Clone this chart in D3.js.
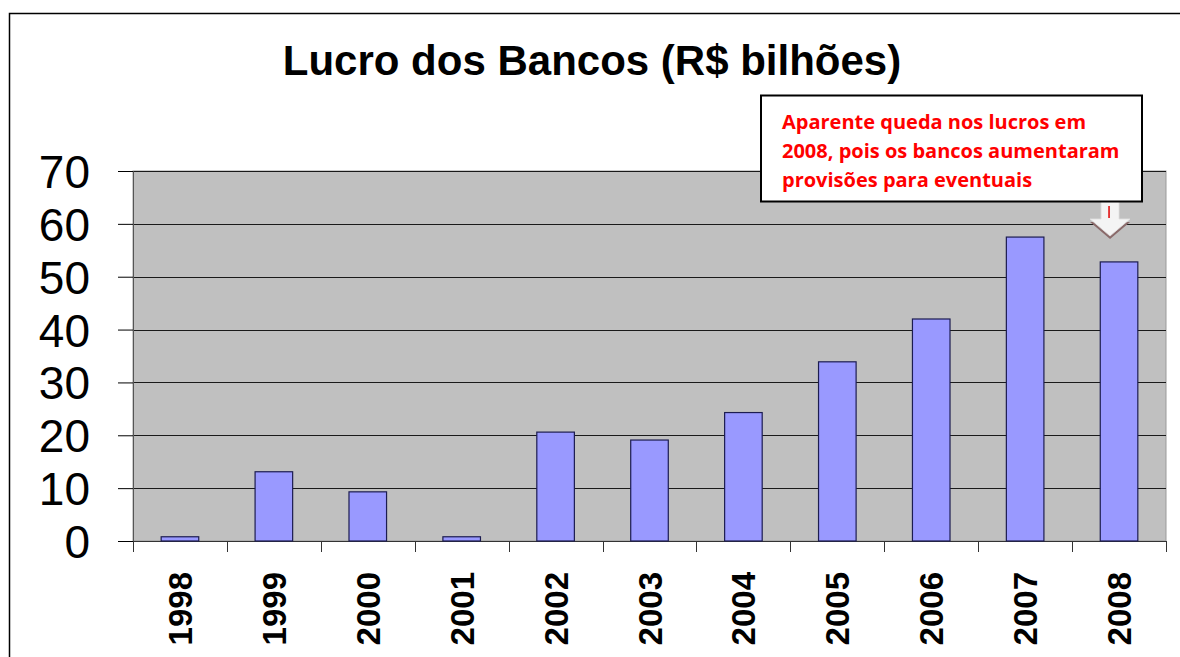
<!DOCTYPE html>
<html>
<head>
<meta charset="utf-8">
<script src="https://cdn.jsdelivr.net/npm/d3@7"></script>
<style>
  html, body { margin: 0; padding: 0; background: #fff; }
  svg { display: block; }
</style>
</head>
<body>
<svg id="chart" width="1180" height="657"></svg>
<script>
// Lucro dos Bancos (R$ bilhões), 1998-2008
const years = ["1998", "1999", "2000", "2001", "2002", "2003", "2004", "2005", "2006", "2007", "2008"];
const lucro = [0.8, 13.1, 9.3, 0.8, 20.6, 19.1, 24.3, 33.9, 42.0, 57.5, 52.8];
const yTicks = [0, 10, 20, 30, 40, 50, 60, 70];
const titleText = "Lucro dos Bancos (R$ bilhões)";
const noteLines = [
  "Aparente queda nos lucros em",
  "2008, pois os bancos aumentaram",
  "provisões para eventuais"
];

const W = 1180, H = 657;
const plot = { left: 133, right: 1166, top: 171, bottom: 541 };

const svg = d3.select("#chart");

// outer frame (only top and left edge visible in the crop)
svg.append("path")
  .attr("d", `M9.5,${H + 5} L9.5,13.5 L${W + 5},13.5`)
  .attr("fill", "none")
  .attr("stroke", "#000")
  .attr("stroke-width", 1.5);

// title
svg.append("text")
  .attr("x", 592)
  .attr("y", 75)
  .attr("text-anchor", "middle")
  .attr("font-family", "Liberation Sans, Arial, sans-serif")
  .attr("font-weight", "bold")
  .attr("font-size", 42)
  .attr("fill", "#000")
  .text(titleText);

// scales
const x = d3.scaleBand()
  .domain(years)
  .range([plot.left, plot.right])
  .paddingInner(0.6)
  .paddingOuter(0.3);

const xTickScale = d3.scaleLinear()
  .domain([0, years.length])
  .range([plot.left, plot.right]);

const y = d3.scaleLinear()
  .domain([0, 70])
  .range([plot.bottom, plot.top]);

// plot background
svg.append("rect")
  .attr("x", plot.left)
  .attr("y", plot.top)
  .attr("width", plot.right - plot.left)
  .attr("height", plot.bottom - plot.top)
  .attr("fill", "#c0c0c0")
  .attr("stroke", "#9a9a9a")
  .attr("stroke-width", 1);

// gridlines
svg.append("g")
  .selectAll("line")
  .data(yTicks.filter(d => d > 0))
  .join("line")
  .attr("x1", plot.left)
  .attr("x2", plot.right)
  .attr("y1", d => Math.round(y(d)) + 0.5)
  .attr("y2", d => Math.round(y(d)) + 0.5)
  .attr("stroke", "#1a1a1a")
  .attr("stroke-width", 1);

// y axis
const yAxis = d3.axisLeft(y)
  .tickValues(yTicks)
  .tickSize(15)
  .tickPadding(28);

const gy = svg.append("g")
  .attr("transform", `translate(${plot.left},0)`)
  .call(yAxis);
gy.select(".domain").attr("stroke", "#555");
gy.selectAll(".tick line").attr("stroke", "#000");
gy.selectAll(".tick text")
  .attr("font-family", "Liberation Sans, Arial, sans-serif")
  .attr("font-size", 46)
  .attr("fill", "#000")
  .attr("dy", "0.36em");

// x axis line + ticks at band boundaries
svg.append("line")
  .attr("x1", plot.left)
  .attr("x2", plot.right)
  .attr("y1", plot.bottom + 0.5)
  .attr("y2", plot.bottom + 0.5)
  .attr("stroke", "#333");

svg.append("g")
  .selectAll("line")
  .data(d3.range(years.length + 1))
  .join("line")
  .attr("x1", d => Math.round(xTickScale(d)) + 0.5)
  .attr("x2", d => Math.round(xTickScale(d)) + 0.5)
  .attr("y1", plot.bottom)
  .attr("y2", plot.bottom + 11)
  .attr("stroke", "#333");

// bars
svg.append("g")
  .selectAll("rect")
  .data(years.map((yr, i) => ({ yr, v: lucro[i] })))
  .join("rect")
  .attr("x", d => x(d.yr))
  .attr("y", d => y(d.v))
  .attr("width", x.bandwidth())
  .attr("height", d => y(0) - y(d.v))
  .attr("fill", "#9999ff")
  .attr("stroke", "#1c1c50")
  .attr("stroke-width", 1.2);

// x labels, rotated
svg.append("g")
  .selectAll("text")
  .data(years)
  .join("text")
  .attr("transform", d => `translate(${x(d) + x.bandwidth() / 2 + 12},572) rotate(-90)`)
  .attr("text-anchor", "end")
  .attr("font-family", "Liberation Sans, Arial, sans-serif")
  .attr("font-weight", "bold")
  .attr("font-size", 33)
  .attr("fill", "#000")
  .text(d => d);

// callout arrow pointing at 2008 bar
const ax = x("2008") + x.bandwidth() / 2 - 9;
const arrow = svg.append("g");
const arrowPath = `M${ax - 9},201 L${ax + 9},201 L${ax + 9},219 L${ax + 20},219 L${ax},236 L${ax - 20},219 L${ax - 9},219 Z`;
arrow.append("path")
  .attr("d", arrowPath)
  .attr("transform", "translate(0,3)")
  .attr("fill", "#8a6a6a");
arrow.append("path")
  .attr("d", arrowPath)
  .attr("fill", "#f4f4f4")
  .attr("stroke", "#e0e0e0")
  .attr("stroke-width", 0.8);
arrow.append("line")
  .attr("x1", ax - 1).attr("x2", ax - 1)
  .attr("y1", 206).attr("y2", 218)
  .attr("stroke", "#e00000")
  .attr("stroke-width", 1.5);

// callout box
svg.append("rect")
  .attr("x", 761)
  .attr("y", 95.5)
  .attr("width", 381)
  .attr("height", 106)
  .attr("fill", "#fff")
  .attr("stroke", "#000")
  .attr("stroke-width", 2);

svg.append("g")
  .selectAll("text")
  .data(noteLines)
  .join("text")
  .attr("x", 782)
  .attr("y", (d, i) => 129 + i * 29)
  .attr("font-family", "Open Sans, sans-serif")
  .attr("font-weight", "bold")
  .attr("font-size", 20)
  .attr("fill", "#ff0000")
  .text(d => d);
</script>
</body>
</html>
